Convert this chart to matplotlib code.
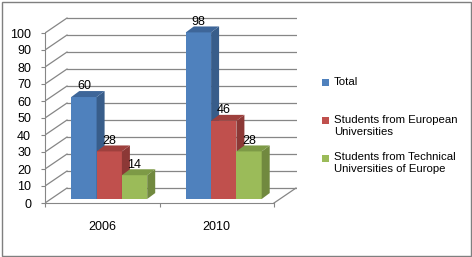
import numpy as np
import matplotlib
matplotlib.use('Agg')
import matplotlib.pyplot as plt
from matplotlib.patches import Polygon, Rectangle

anios = ['2006', '2010']
series = ['Total', 'Students from European\nUniversities',
          'Students from Technical\nUniversities of Europe']
total = [60, 98]
europeas = [28, 46]
tecnicas = [14, 28]

caras = ['#4F81BD', '#C0504D', '#9BBB59']
lados = ['#385D8A', '#8C3836', '#71893F']
techos = ['#3E6699', '#9E403D', '#7D9A46']

plt.rcParams['font.family'] = ['Liberation Sans', 'DejaVu Sans']

fig = plt.figure(figsize=(4.72, 2.57), dpi=100)
ax = fig.add_axes([45/472, 54/257, 251.9/472, 187/257])
ax.set_xlim(0, 2.2)
ax.set_ylim(0, 110)

# profundidad (en unidades de datos)
fondo_x, fondo_y = 0.192, 8.8
desp_x, desp_y = 0.061, 2.35
prof_x, prof_y = 0.07, 3.5
ancho = 0.221

gris = '#868686'
# pared del fondo y pared izquierda
for v in range(0, 101, 10):
    ax.plot([fondo_x, 2 + fondo_x], [v + fondo_y, v + fondo_y], color=gris, lw=0.9, zorder=1)
    ax.plot([0, fondo_x], [v, v + fondo_y], color=gris, lw=0.9, zorder=1)
# piso
ax.plot([2, 2 + fondo_x], [0, fondo_y], color=gris, lw=0.9, zorder=1)

datos = [total, europeas, tecnicas]
for i in range(len(anios)):
    centro = i + 0.5 + desp_x
    for j, serie in enumerate(datos):
        h = serie[i]
        x0 = centro + (j - 1.5) * ancho
        x1 = x0 + ancho
        y0 = desp_y
        ax.bar(x0, h, width=ancho, bottom=y0, align='edge', color=caras[j],
               edgecolor='none', zorder=3 + j)
        ax.add_patch(Polygon([(x1, y0), (x1 + prof_x, y0 + prof_y),
                              (x1 + prof_x, y0 + h + prof_y), (x1, y0 + h)],
                             closed=True, facecolor=lados[j], edgecolor='none', zorder=3 + j))
        ax.add_patch(Polygon([(x0, y0 + h), (x1, y0 + h),
                              (x1 + prof_x, y0 + h + prof_y), (x0 + prof_x, y0 + h + prof_y)],
                             closed=True, facecolor=techos[j], edgecolor='none', zorder=3 + j))
        ax.text(x0 + ancho / 2, y0 + h + prof_y - 0.8, str(h), ha='center', va='bottom',
                fontsize=9, zorder=10)

for s in ['top', 'right']:
    ax.spines[s].set_visible(False)
ax.spines['left'].set_bounds(0, 100)
ax.spines['bottom'].set_bounds(0, 2)
ax.spines['left'].set_color(gris)
ax.spines['bottom'].set_color(gris)

ax.set_yticks(range(0, 101, 10))
ax.tick_params(axis='y', length=3, color=gris, pad=7, labelsize=9)
ax.set_xticks([0, 1, 2])
ax.set_xticklabels([])
ax.set_xticks([0.5, 1.5], minor=True)
ax.set_xticklabels(anios, minor=True)
ax.tick_params(axis='x', which='major', length=3, color=gris)
ax.tick_params(axis='x', which='minor', length=0, pad=13, labelsize=9)

# leyenda
ys = [83, 121, 158]
for j, nombre in enumerate(series):
    yc = 1 - ys[j] / 257
    fig.patches.append(Rectangle((322/472, yc - 3.5/257), 7/472, 7/257,
                                 transform=fig.transFigure, facecolor=caras[j],
                                 edgecolor='none'))
    fig.text(334/472, yc + 6/257, nombre, ha='left', va='top', fontsize=8.2,
             linespacing=1.3, transform=fig.transFigure)

fig.patches.append(Rectangle((1.5/472, 1.5/257), 469/472, 254/257, transform=fig.transFigure,
                             facecolor='none', edgecolor='#7F7F7F', lw=1))

plt.savefig('out.png', dpi=100)
